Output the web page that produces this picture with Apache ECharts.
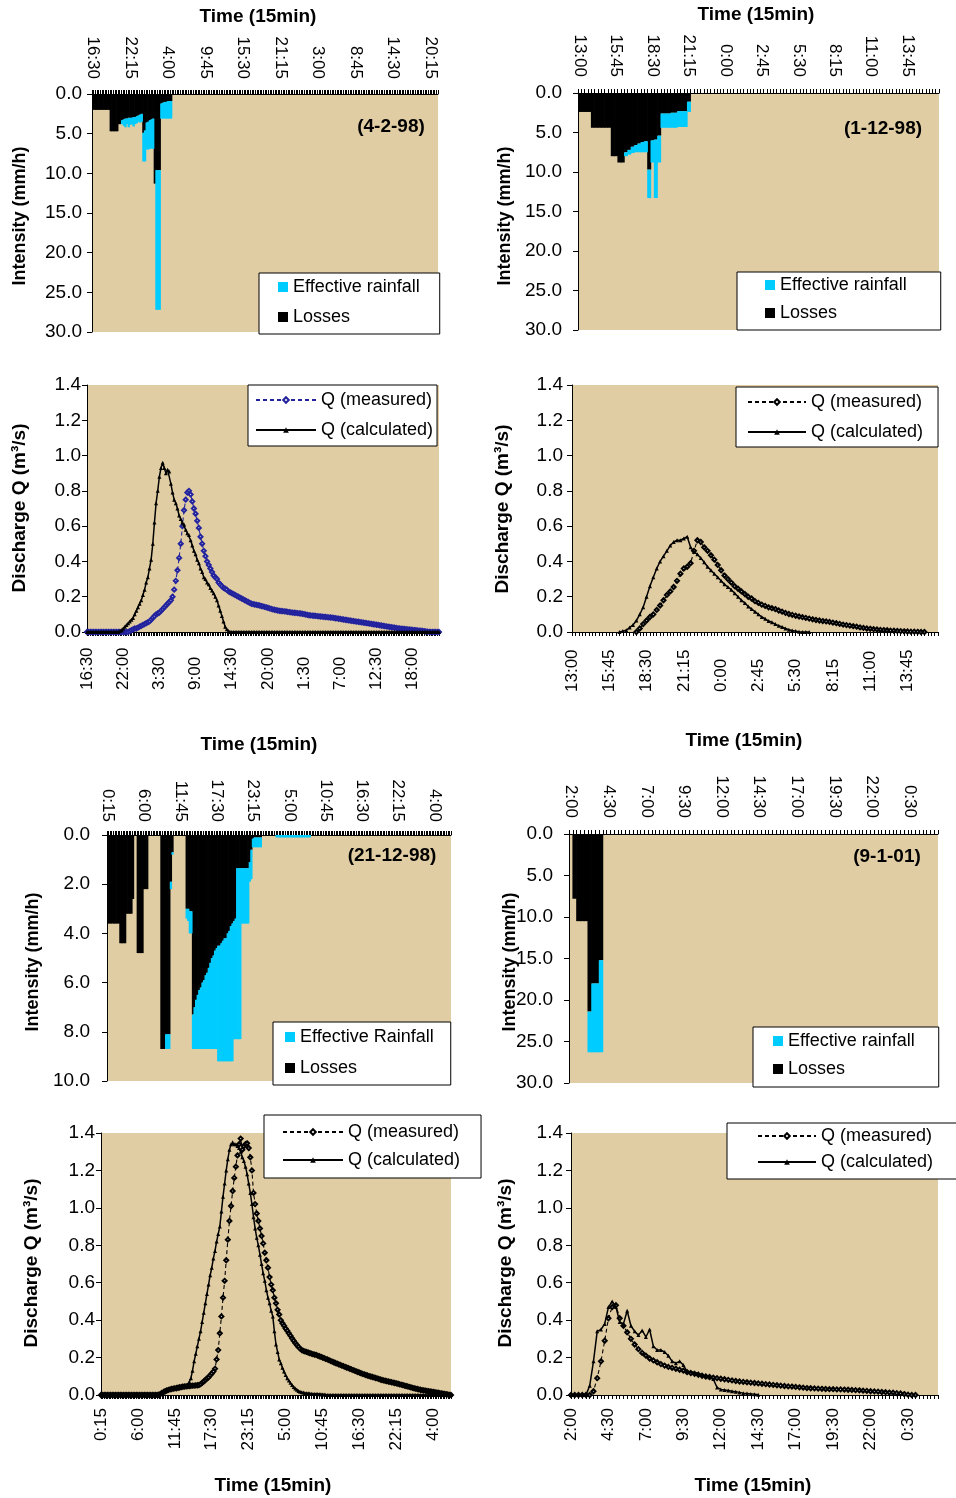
<!DOCTYPE html>
<html>
<head>
<meta charset="utf-8">
<title>Effective rainfall, losses and discharge</title>
<script src="https://cdn.jsdelivr.net/npm/echarts@6/dist/echarts.min.js"></script>
<style>
  html, body { margin: 0; padding: 0; background: #fff; }
  #chart { width: 956px; height: 1498px; }
</style>
</head>
<body>
<div id="chart"></div>
<script>
// ---- data (15 min steps) ----

// event 4-2-98
const start1 = '16:30';
const nRain1 = 212, nFlow1 = 215;
const loss1 = [2.0,2.0,2.0,2.0,2.0,2.0,2.0,2.0,2.0,2.0,
  2.0,4.7,4.7,4.7,4.7,4.7,3.8,3.8,3.3,3.2,
  3.1,3.1,3.0,3.0,3.0,2.9,2.9,2.8,2.7,2.6,
  2.5,4.9,4.6,3.6,3.5,3.3,3.2,3.1,11.3,9.6,
  9.6,9.6,1.2,1.1,1.0,1.0,0.9,0.9,0.9,0];
const eff1 = [0,0,0,0,0,0,0,0,0,0,
  0,0,0,0,0,0,0,0,0.5,0.8,
  1.1,0.7,1.2,0.9,0.8,1.2,0.9,0.9,0.8,1.0,
  1.0,3.6,3.9,3.4,3.5,3.6,3.7,3.8,0,17.6,
  17.6,17.6,1.9,2.0,2.1,2.1,2.2,2.2,2.2,0];
const qMeas1 = [0,0,0,0,0,0,0,0,0,0,
  0,0,0,0,0,0,0,0,0,0,
  0,0,0,0,0,0,0.005,0.01,0.015,0.02,
  0.02,0.025,0.03,0.035,0.04,0.045,0.05,0.055,0.06,0.07,
  0.08,0.09,0.10,0.105,0.11,0.12,0.13,0.14,0.15,0.16,
  0.17,0.18,0.20,0.24,0.29,0.35,0.42,0.50,0.60,0.69,
  0.75,0.79,0.80,0.78,0.74,0.70,0.67,0.63,0.59,0.54,
  0.50,0.46,0.43,0.40,0.38,0.36,0.34,0.32,0.31,0.30,
  0.28,0.27,0.26,0.25,0.245,0.24,0.23,0.225,0.22,0.215,
  0.21,0.205,0.20,0.195,0.19,0.185,0.18,0.175,0.17,0.165,
  0.16,0.158,0.156,0.154,0.152,0.15,0.147,0.145,0.142,0.14,
  0.137,0.134,0.131,0.128,0.126,0.124,0.122,0.12,0.119,0.118,
  0.117,0.116,0.114,0.113,0.111,0.11,0.109,0.108,0.107,0.106,
  0.105,0.103,0.101,0.099,0.097,0.095,0.094,0.093,0.092,0.091,
  0.09,0.089,0.088,0.087,0.086,0.085,0.084,0.083,0.082,0.081,
  0.08,0.078,0.077,0.075,0.074,0.072,0.071,0.069,0.068,0.066,
  0.065,0.063,0.062,0.06,0.059,0.058,0.056,0.055,0.053,0.052,
  0.05,0.049,0.047,0.046,0.044,0.043,0.041,0.04,0.038,0.037,
  0.035,0.033,0.032,0.03,0.029,0.027,0.026,0.024,0.023,0.021,
  0.02,0.019,0.018,0.017,0.016,0.015,0.014,0.013,0.012,0.011,
  0.01,0.009,0.008,0.007,0.006,0.005,0.003,0.002,0.001,0,
  0,0,0,0,0];
const qCalc1 = [0,0,0,0,0,0,0,0,0,0,
  0,0,0,0,0,0,0,0,0,0,
  0.005,0.01,0.02,0.03,0.04,0.05,0.06,0.07,0.08,0.10,
  0.12,0.14,0.16,0.18,0.21,0.24,0.28,0.31,0.36,0.41,
  0.50,0.62,0.73,0.80,0.88,0.93,0.96,0.93,0.90,0.92,
  0.91,0.84,0.79,0.75,0.73,0.70,0.66,0.64,0.62,0.61,
  0.58,0.56,0.55,0.52,0.49,0.46,0.44,0.41,0.39,0.36,
  0.34,0.31,0.30,0.28,0.27,0.25,0.235,0.22,0.20,0.18,
  0.15,0.12,0.09,0.06,0.03,0.015,0.005,0,0,0,
  0,0,0,0,0,0,0,0,0,0,
  0,0,0,0,0,0,0,0,0,0,
  0,0,0,0,0,0,0,0,0,0,
  0,0,0,0,0,0,0,0,0,0,
  0,0,0,0,0,0,0,0,0,0,
  0,0,0,0,0,0,0,0,0,0,
  0,0,0,0,0,0,0,0,0,0,
  0,0,0,0,0,0,0,0,0,0,
  0,0,0,0,0,0,0,0,0,0,
  0,0,0,0,0,0,0,0,0,0,
  0,0,0,0,0,0,0,0,0,0,
  0,0,0,0,0,0,0,0,0,0,
  0,0,0,0,0];

// event 1-12-98
const start2 = '13:00';
const nRain2 = 109, nFlow2 = 109;
const loss2 = [2.4,2.4,2.4,2.4,4.4,4.4,4.4,4.4,4.4,4.4,
  8.0,8.0,8.8,8.8,7.5,7.2,6.8,6.6,6.4,6.2,
  6.1,9.7,6.0,5.9,5.4,2.6,2.6,2.6,2.5,2.5,
  2.3,2.3,2.3,1.1,0];
const eff2 = [0,0,0,0,0,0,0,0,0,0,
  0,0,0,0,0.5,0.6,0.8,0.9,1.1,1.3,
  1.4,3.6,2.8,7.4,3.4,1.8,1.8,1.8,1.9,1.9,
  2.0,2.0,2.0,1.3,0];
const qMeas2 = ['-','-','-','-','-','-','-','-','-','-',
  '-','-','-','-','-','-','-','-','-',0,
  0.02,0.045,0.065,0.085,0.10,0.125,0.15,0.18,0.21,0.23,
  0.255,0.29,0.33,0.36,0.37,0.39,0.46,0.52,0.51,0.48,
  0.46,0.435,0.41,0.38,0.35,0.32,0.30,0.28,0.26,0.245,
  0.23,0.215,0.20,0.19,0.175,0.165,0.155,0.148,0.14,0.135,
  0.13,0.122,0.115,0.108,0.102,0.097,0.092,0.088,0.084,0.08,
  0.076,0.072,0.068,0.065,0.062,0.06,0.057,0.053,0.05,0.046,
  0.042,0.039,0.036,0.033,0.03,0.026,0.023,0.02,0.018,0.016,
  0.014,0.012,0.011,0.01,0.008,0.007,0.006,0.005,0.004,0.003,
  0.002,0.002,0.001,0,0];
const qCalc2 = ['-','-','-','-','-','-','-','-','-','-',
  '-','-','-','-',0,0.005,0.01,0.025,0.04,0.065,
  0.10,0.14,0.20,0.26,0.31,0.36,0.40,0.43,0.46,0.49,
  0.51,0.52,0.52,0.53,0.54,0.48,0.455,0.44,0.42,0.395,
  0.37,0.35,0.33,0.31,0.29,0.27,0.255,0.24,0.22,0.20,
  0.18,0.165,0.145,0.13,0.115,0.10,0.085,0.075,0.062,0.055,
  0.045,0.035,0.028,0.02,0.013,0.008,0.005,0.002,0,0,
  0];

// event 21-12-98
const start3 = '0:15';
const nRain3 = 218, nFlow3 = 219;
const loss3 = [3.6,3.6,3.6,3.6,3.6,3.6,3.6,3.6,4.4,4.4,
  4.4,4.4,3.2,3.2,3.2,3.2,2.6,0,0,4.8,
  4.8,4.8,4.8,2.2,2.2,2.2,0,0,0,0,
  0,0,0,0,8.7,8.7,8.7,8.1,8.1,8.1,
  1.9,0.7,0,0,0,0,0,0,0,0,
  3.0,3.0,3.1,3.1,7.3,7.0,6.7,6.5,6.3,6.2,
  6.0,5.9,5.7,5.6,5.4,5.2,5.0,4.9,4.7,4.6,
  4.5,4.5,4.4,4.3,4.2,4.2,4.0,3.9,3.7,3.6,
  3.5,3.4,1.35,1.35,1.35,1.35,1.35,1.35,1.35,1.35,
  1.1,0.6,0.15,0.1,0.1,0.1,0.1,0.1,0,0,
  0,0,0,0,0,0,0,0,0,0,
  0,0,0,0,0,0,0,0,0,0,
  0,0,0,0,0,0,0,0,0,0];
const eff3 = [0,0,0,0,0,0,0,0,0,0,
  0,0,0,0,0,0,0,0,0,0,
  0,0,0,0,0,0,0,0,0,0,
  0,0,0,0,0,0,0,0.6,0.6,0.6,
  0.3,0.1,0,0,0,0,0,0,0,0,
  0.4,0.5,0.9,0.9,1.4,1.7,2.0,2.2,2.4,2.5,
  2.7,2.8,3.0,3.1,3.3,3.5,3.7,3.8,4.0,4.1,
  4.7,4.7,4.8,4.9,5.0,5.0,5.2,5.3,5.5,5.6,
  4.8,4.9,6.95,6.95,6.95,2.25,2.25,2.25,2.25,2.25,
  0.8,1.2,0.35,0.4,0.4,0.4,0.4,0.4,0,0,
  0,0,0,0,0,0,0,0.1,0.1,0.1,
  0.1,0.1,0.1,0.1,0.1,0.1,0.1,0.1,0.1,0.1,
  0.1,0.1,0.1,0.1,0.1,0.1,0.1,0.1,0.1,0];
const qMeas3 = [0,0,0,0,0,0,0,0,0,0,
  0,0,0,0,0,0,0,0,0,0,
  0,0,0,0,0,0,0,0,0,0,
  0,0,0,0,0,0,0,0.005,0.01,0.015,
  0.02,0.024,0.027,0.03,0.032,0.034,0.035,0.036,0.038,0.04,
  0.042,0.044,0.045,0.046,0.047,0.048,0.049,0.05,0.05,0.051,
  0.052,0.053,0.058,0.065,0.072,0.08,0.088,0.095,0.105,0.115,
  0.125,0.14,0.19,0.24,0.33,0.42,0.52,0.61,0.72,0.83,
  0.93,1.01,1.09,1.16,1.22,1.28,1.34,1.37,1.31,1.33,
  1.34,1.345,1.32,1.27,1.20,1.08,1.02,0.97,0.93,0.89,
  0.85,0.81,0.76,0.72,0.68,0.63,0.59,0.56,0.52,0.49,
  0.455,0.43,0.40,0.383,0.37,0.355,0.343,0.33,0.317,0.303,
  0.29,0.278,0.267,0.257,0.248,0.24,0.236,0.233,0.23,0.227,
  0.224,0.221,0.218,0.216,0.214,0.21,0.207,0.204,0.2,0.197,
  0.193,0.19,0.186,0.182,0.178,0.175,0.171,0.168,0.164,0.161,
  0.157,0.154,0.15,0.147,0.144,0.14,0.137,0.133,0.13,0.126,
  0.123,0.12,0.116,0.113,0.11,0.107,0.104,0.101,0.099,0.096,
  0.094,0.091,0.089,0.086,0.083,0.08,0.078,0.076,0.074,0.072,
  0.07,0.068,0.066,0.064,0.062,0.06,0.057,0.055,0.053,0.05,
  0.048,0.046,0.043,0.041,0.038,0.036,0.034,0.032,0.03,0.028,
  0.026,0.025,0.023,0.022,0.02,0.019,0.018,0.016,0.015,0.013,
  0.012,0.01,0.009,0.007,0.006,0.004,0.003,0.001,0];
const qCalc3 = [0,0,0,0,0,0,0,0,0,0,
  0,0,0,0,0,0,0,0,0,0,
  0,0,0,0,0,0,0,0,0,0,
  0,0,0,0,0,0.005,0.01,0.015,0.02,0.025,
  0.028,0.03,0.032,0.035,0.038,0.04,0.042,0.045,0.048,0.05,
  0.05,0.052,0.052,0.053,0.055,0.07,0.09,0.13,0.18,0.22,
  0.26,0.30,0.34,0.39,0.44,0.49,0.54,0.59,0.64,0.68,
  0.73,0.77,0.82,0.86,0.90,0.98,1.06,1.13,1.20,1.26,
  1.31,1.34,1.35,1.34,1.34,1.33,1.32,1.30,1.27,1.25,
  1.22,1.18,1.13,1.08,1.02,0.95,0.89,0.84,0.80,0.75,
  0.70,0.65,0.61,0.56,0.52,0.49,0.45,0.42,0.34,0.27,
  0.23,0.19,0.17,0.145,0.125,0.107,0.09,0.078,0.065,0.053,
  0.043,0.035,0.028,0.022,0.018,0.015,0.013,0.011,0.01,0.009,
  0.008,0.007,0.006,0.006,0.005,0.005,0.004,0.004,0.003,0.003,
  0.002,0,0,0,0,0,0,0,0,0,
  0,0,0,0,0,0,0,0,0,0,
  0,0,0,0,0,0,0,0,0,0,
  0,0,0,0,0,0,0,0,0,0,
  0,0,0,0,0,0,0,0,0,0,
  0,0,0,0,0,0,0,0,0,0,
  0,0,0,0,0,0,0,0,0,0,
  0,0,0,0,0,0,0,0,0];

// event 9-1-01
const start4 = '2:00';
const nRain4 = 98, nFlow4 = 99;
const loss4 = [0,7.8,10.5,10.5,10.5,21.4,18.0,18.0,15.2,0];
const eff4 = [0,0,0,0,0,4.9,8.3,8.3,11.1,0];
const qMeas4 = [0,0,0,0,0,0,0.02,0.09,0.18,0.29,
  0.41,0.47,0.48,0.41,0.37,0.335,0.30,0.27,0.245,0.225,
  0.21,0.195,0.185,0.175,0.165,0.157,0.15,0.145,0.14,0.135,
  0.13,0.122,0.117,0.113,0.108,0.103,0.099,0.096,0.093,0.09,
  0.087,0.084,0.081,0.078,0.075,0.072,0.07,0.068,0.066,0.064,
  0.062,0.06,0.058,0.056,0.054,0.052,0.05,0.048,0.046,0.045,
  0.043,0.041,0.039,0.037,0.036,0.035,0.034,0.033,0.032,0.031,
  0.031,0.03,0.03,0.029,0.028,0.027,0.026,0.025,0.023,0.022,
  0.02,0.019,0.018,0.016,0.015,0.013,0.012,0.01,0.008,0.005,
  0.002,0,0];
const qCalc4 = [0,0,0,0,0,0.05,0.18,0.34,0.35,0.38,
  0.47,0.50,0.47,0.39,0.38,0.45,0.37,0.34,0.32,0.345,
  0.31,0.35,0.26,0.24,0.24,0.23,0.21,0.18,0.17,0.18,
  0.16,0.125,0.125,0.12,0.115,0.107,0.10,0.095,0.085,0.04,
  0.03,0.027,0.024,0.02,0.018,0.014,0.01,0.008,0.006,0.004,
  0.002];

// ---- styling ----
const FONT = '"Liberation Sans", Arial, sans-serif';
const PLOT_BG = '#e1cda3';
const CYAN = '#00ccff';
const NAVY = '#23239e';

function timeLabels(start, n) {
  const [h, m] = start.split(':').map(Number);
  const out = [];
  for (let i = 0; i < n; i++) {
    const t = (h * 60 + m + i * 15) % 1440;
    out.push(Math.floor(t / 60) + ':' + String(t % 60).padStart(2, '0'));
  }
  return out;
}

const option = {
  animation: false,
  backgroundColor: '#fff',
  grid: [], xAxis: [], yAxis: [], series: [], legend: [], graphic: []
};

function addGrid(box) {
  option.grid.push({
    left: box[0], top: box[1], width: box[2], height: box[3],
    show: true, backgroundColor: PLOT_BG, borderWidth: 0,
    containLabel: false, outerBoundsMode: 'none'
  });
  return option.grid.length - 1;
}

function yAxisFor(g, max, step, margin, inverse) {
  return {
    type: 'value', gridIndex: g, min: 0, max: max, interval: step, inverse: inverse,
    axisLine: { show: true, lineStyle: { color: '#000', width: 1 } },
    axisTick: { show: true, length: 5, lineStyle: { color: '#000', width: 1 } },
    axisLabel: { margin: margin, color: '#000', fontFamily: FONT, fontSize: 19,
      formatter: v => v.toFixed(1) },
    splitLine: { show: false }
  };
}

// one tick per 15 min step, like the original
const denseTicks = { show: true, interval: 0, length: 4, lineStyle: { color: '#000', width: 1 } };

function legendFor(p, names, extra) {
  return Object.assign({
    left: p.legend[0], top: p.legend[1], orient: 'vertical',
    backgroundColor: '#fff', borderColor: '#000', borderWidth: 1, borderRadius: 0,
    padding: p.legendPad, itemGap: p.legendGap,
    selectedMode: false,
    textStyle: { fontFamily: FONT, fontSize: 18, color: '#000', lineHeight: 20 },
    formatter: name => name.split('|')[0],
    data: names
  }, extra);
}

// hyetograph column from value[1] down to value[2]; columns are drawn a
// hair wider than the 15 min band so neighbours join without seams
function columnItem(params, api) {
  const from = api.value(1), to = api.value(2);
  if (!(to > from)) return null;
  const a = api.coord([api.value(0), from]);
  const b = api.coord([api.value(0), to]);
  const w = api.size([1, 0])[0];
  return {
    type: 'rect',
    shape: { x: a[0] - w / 2 - 0.35, y: a[1], width: w + 0.7, height: b[1] - a[1] },
    style: { fill: api.visual('color') }
  };
}

function rainSeries(name, g, rows, color) {
  return {
    type: 'custom', name: name, xAxisIndex: g, yAxisIndex: g,
    renderItem: columnItem, encode: { x: 0, y: [1, 2] },
    data: rows, itemStyle: { color: color }, silent: true, clip: true
  };
}

function addRain(p) {
  const g = addGrid(p.box);
  option.xAxis.push({
    type: 'category', gridIndex: g, position: 'top', data: p.cats, boundaryGap: true,
    axisLine: { show: true, onZero: false, lineStyle: { color: '#000', width: 1 } },
    axisTick: denseTicks,
    axisLabel: { interval: p.every - 1, rotate: 90, margin: p.xMargin, color: '#000',
      fontFamily: FONT, fontSize: 17 },
    splitLine: { show: false }
  });
  option.yAxis.push(yAxisFor(g, p.ymax, p.ystep, p.yMargin, true));
  const tag = '|' + g;
  // losses hang from 0; effective rainfall continues below the losses
  const lossRows = p.loss.map((v, i) => [i, 0, v]);
  const effRows = p.eff.map((v, i) => [i, p.loss[i], p.loss[i] + v]);
  option.series.push(
    rainSeries('Losses' + tag, g, lossRows, '#000'),
    rainSeries(p.effName + tag, g, effRows, CYAN)
  );
  option.legend.push(legendFor(p, [p.effName + tag, 'Losses' + tag],
    { icon: 'rect', itemWidth: 10, itemHeight: 10 }));
}

function addFlow(p) {
  const g = addGrid(p.box);
  option.xAxis.push({
    type: 'category', gridIndex: g, position: 'bottom', data: p.cats, boundaryGap: false,
    axisLine: { show: true, onZero: false, lineStyle: { color: '#000', width: 1 } },
    axisTick: denseTicks,
    axisLabel: { interval: p.every - 1, rotate: 90, margin: p.xMargin, align: p.xAlign,
      color: '#000', fontFamily: FONT, fontSize: 17 },
    splitLine: { show: false }
  });
  option.yAxis.push(yAxisFor(g, 1.4, 0.2, p.yMargin, false));
  const tag = '|' + g;
  option.series.push(
    { type: 'line', name: 'Q (measured)' + tag, xAxisIndex: g, yAxisIndex: g, data: p.meas,
      symbol: 'emptyDiamond', symbolSize: 4, showSymbol: true, showAllSymbol: true,
      lineStyle: { color: p.measColor, width: 1.1, type: [4, 3] },
      itemStyle: { color: p.measColor, borderWidth: 0.8 }, silent: true, z: 2 },
    { type: 'line', name: 'Q (calculated)' + tag, xAxisIndex: g, yAxisIndex: g, data: p.calc,
      symbol: 'triangle', symbolSize: 4, showSymbol: true, showAllSymbol: true,
      lineStyle: { color: '#000', width: 1.5 },
      itemStyle: { color: '#000' }, silent: true, z: 3 }
  );
  option.legend.push(legendFor(p, ['Q (measured)' + tag, 'Q (calculated)' + tag],
    { itemWidth: p.legendIcon, itemHeight: 7 }));
}

function addText(text, x, y, size, vertical) {
  option.graphic.push({
    type: 'text', x: x, y: y, rotation: vertical ? Math.PI / 2 : 0, silent: true,
    style: { text: text, fill: '#000', font: 'bold ' + size + 'px ' + FONT,
      align: 'center', verticalAlign: 'middle', textAlign: 'center', textVerticalAlign: 'middle' }
  });
}

// 4-2-98
addRain({ box: [92, 94, 346, 238], cats: timeLabels(start1, nRain1), every: 23, xMargin: 15,
  ymax: 30, ystep: 5, yMargin: 10, loss: loss1, eff: eff1, effName: 'Effective rainfall',
  legend: [259, 273], legendPad: [4, 20, 7, 19], legendGap: 10 });
addFlow({ box: [87, 385, 352, 247], cats: timeLabels(start1, nFlow1), every: 22, xMargin: 58,
  xAlign: 'left', yMargin: 6, meas: qMeas1, calc: qCalc1, measColor: NAVY,
  legend: [248, 385], legendPad: [5, 4, 6, 7], legendGap: 10, legendIcon: 60 });
// 1-12-98
addRain({ box: [578, 93, 361, 237], cats: timeLabels(start2, nRain2), every: 11, xMargin: 16,
  ymax: 30, ystep: 5, yMargin: 16, loss: loss2, eff: eff2, effName: 'Effective rainfall',
  legend: [737, 272], legendPad: [3, 34, 7, 28], legendGap: 8 });
addFlow({ box: [572, 385, 366, 247], cats: timeLabels(start2, nFlow2), every: 11, xMargin: 60,
  xAlign: 'left', yMargin: 9, meas: qMeas2, calc: qCalc2, measColor: '#000',
  legend: [736, 387], legendPad: [5, 15, 5, 11], legendGap: 10, legendIcon: 58 });
// 21-12-98
addRain({ box: [107, 835, 344, 246], cats: timeLabels(start3, nRain3), every: 23, xMargin: 13,
  ymax: 10, ystep: 2, yMargin: 17, loss: loss3, eff: eff3, effName: 'Effective Rainfall',
  legend: [273, 1022], legendPad: [5, 17, 7, 12], legendGap: 11 });
addFlow({ box: [101, 1133, 350, 262], cats: timeLabels(start3, nFlow3), every: 23, xMargin: 13,
  yMargin: 6, meas: qMeas3, calc: qCalc3, measColor: '#000',
  legend: [264, 1115], legendPad: [7, 21, 8, 18], legendGap: 8, legendIcon: 60 });
// 9-1-01
addRain({ box: [569, 834, 369, 249], cats: timeLabels(start4, nRain4), every: 10, xMargin: 16,
  ymax: 30, ystep: 5, yMargin: 16, loss: loss4, eff: eff4, effName: 'Effective rainfall',
  legend: [753, 1027], legendPad: [4, 24, 8, 20], legendGap: 8 });
addFlow({ box: [571, 1133, 367, 262], cats: timeLabels(start4, nFlow4), every: 10, xMargin: 13,
  yMargin: 8, meas: qMeas4, calc: qCalc4, measColor: '#000',
  legend: [727, 1123], legendPad: [3, 24, 7, 30], legendGap: 6, legendIcon: 58 });

// titles and labels
addText('Time (15min)', 258, 17, 19);
addText('Time (15min)', 756, 15, 19);
addText('Time (15min)', 259, 745, 19);
addText('Time (15min)', 744, 741, 19);
addText('Time (15min)', 273, 1486, 19);
addText('Time (15min)', 753, 1486, 19);
addText('Intensity (mm/h)', 20, 216, 18, true);
addText('Intensity (mm/h)', 505, 216, 18, true);
addText('Intensity (mm/h)', 33, 962, 18, true);
addText('Intensity (mm/h)', 510, 962, 18, true);
addText('Discharge Q (m³/s)', 20, 508, 19, true);
addText('Discharge Q (m³/s)', 503, 509, 19, true);
addText('Discharge Q (m³/s)', 32, 1263, 19, true);
addText('Discharge Q (m³/s)', 506, 1263, 19, true);
addText('(4-2-98)', 391, 127, 19);
addText('(1-12-98)', 883, 129, 19);
addText('(21-12-98)', 392, 856, 19);
addText('(9-1-01)', 887, 857, 19);

const chart = echarts.init(document.getElementById('chart'));
chart.setOption(option);
</script>
</body>
</html>
